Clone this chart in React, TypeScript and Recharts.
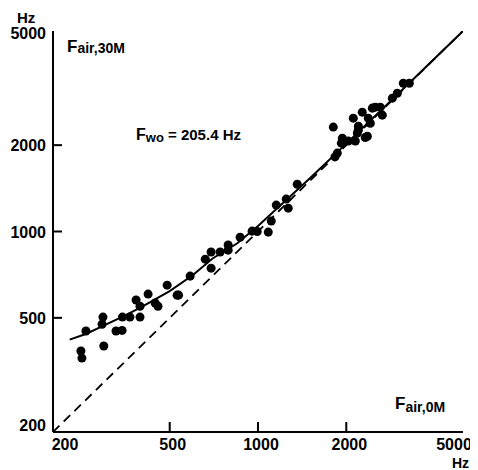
import React from 'react';
import { ScatterChart, Scatter, XAxis, YAxis, Customized } from 'recharts';

// measured F_air,0M vs F_air,30M (Hz)
const measured = [
  { x: 249, y: 383 }, { x: 251, y: 362 }, { x: 259, y: 450 }, { x: 296, y: 503 },
  { x: 294, y: 475 }, { x: 298, y: 399 }, { x: 328, y: 450 }, { x: 344, y: 452 },
  { x: 345, y: 503 }, { x: 366, y: 503 }, { x: 384, y: 577 }, { x: 396, y: 503 },
  { x: 396, y: 549 }, { x: 422, y: 605 }, { x: 446, y: 563 }, { x: 456, y: 549 },
  { x: 490, y: 650 }, { x: 530, y: 600 }, { x: 536, y: 600 }, { x: 587, y: 699 },
  { x: 661, y: 801 }, { x: 692, y: 848 }, { x: 692, y: 745 }, { x: 743, y: 848 },
  { x: 791, y: 897 }, { x: 791, y: 861 }, { x: 869, y: 955 }, { x: 955, y: 1003 },
  { x: 994, y: 1000 }, { x: 1084, y: 995 }, { x: 1110, y: 1087 }, { x: 1154, y: 1236 },
  { x: 1248, y: 1297 }, { x: 1268, y: 1206 }, { x: 1361, y: 1462 }, { x: 1806, y: 2312 },
  { x: 1830, y: 1820 }, { x: 1864, y: 1876 }, { x: 1924, y: 2032 }, { x: 1939, y: 2115 },
  { x: 2032, y: 2068 }, { x: 2181, y: 2203 }, { x: 2199, y: 2327 }, { x: 2360, y: 2148 },
  { x: 2415, y: 2385 }, { x: 2113, y: 2484 }, { x: 2147, y: 2068 }, { x: 2198, y: 2256 },
  { x: 2267, y: 2606 }, { x: 2321, y: 2127 }, { x: 2377, y: 2484 }, { x: 2454, y: 2692 },
  { x: 2512, y: 2713 }, { x: 2612, y: 2713 }, { x: 2654, y: 2545 }, { x: 2871, y: 2916 },
  { x: 2985, y: 3035 }, { x: 3130, y: 3288 }, { x: 3281, y: 3288 },
];

// fitted curve
const fitCurve = [
  { x: 228, y: 420 }, { x: 260, y: 440 }, { x: 300, y: 472 }, { x: 350, y: 508 },
  { x: 400, y: 545 }, { x: 500, y: 620 }, { x: 600, y: 705 }, { x: 700, y: 805 },
  { x: 850, y: 910 }, { x: 1000, y: 1045 }, { x: 1500, y: 1530 }, { x: 2000, y: 2025 },
  { x: 3000, y: 3015 }, { x: 5000, y: 5000 },
];

// identity line F_30M = F_0M
const identity = [{ x: 200, y: 200 }, { x: 5000, y: 5000 }];

const ticks = [200, 500, 1000, 2000, 5000];
const domain: [number, number] = [200, 5000];
const FONT = '"Liberation Sans", Arial, sans-serif';

const XTick = ({ x, y, payload }: any) => {
  const v = payload.value;
  const edge = v === 200 || v === 5000;
  const dx = v === 200 ? 12 : v === 5000 ? -9 : 3;
  return (
    <g>
      {!edge && <line x1={x} y1={y} x2={x} y2={y - 10} stroke="#000" strokeWidth={2} />}
      <text x={x + dx} y={y + 18} textAnchor="middle" fontFamily={FONT} fontWeight="bold" fontSize={16} fill="#000">
        {v}
      </text>
    </g>
  );
};

const YTick = ({ x, y, payload }: any) => {
  const v = payload.value;
  const edge = v === 200 || v === 5000;
  const dy = v === 200 ? -1 : v === 5000 ? 8 : 6;
  return (
    <g>
      {!edge && <line x1={x} y1={y} x2={x + 9} y2={y} stroke="#000" strokeWidth={2} />}
      <text x={x - 7} y={y + dy} textAnchor="end" fontFamily={FONT} fontWeight="bold" fontSize={16} fill="#000">
        {v}
      </text>
    </g>
  );
};

const Annotations = () => (
  <g fontFamily={FONT} fill="#000">
    <text x={9} y={15} fontSize={15} fontWeight="bold">Hz</text>
    <text x={461} y={460} fontSize={14} fontWeight="bold" textAnchor="end">Hz</text>
    <text x={59} y={44} fontWeight="bold">
      <tspan fontSize={17}>F</tspan>
      <tspan fontSize={14} dy={1}>air,30M</tspan>
    </text>
    <text x={128} y={132} fontWeight="bold">
      <tspan fontSize={16}>F</tspan>
      <tspan fontSize={13} dy={2}>wo</tspan>
      <tspan fontSize={15} dy={-2}> = 205.4 Hz</tspan>
    </text>
    <text x={387} y={401} fontWeight="bold">
      <tspan fontSize={17}>F</tspan>
      <tspan fontSize={14} dy={3}>air,0M</tspan>
    </text>
  </g>
);

const NoShape = () => <g />;

export default function App() {
  return (
    <ScatterChart
      width={470}
      height={462}
      margin={{ top: 23, right: 15, bottom: 8, left: 0 }}
      style={{ overflow: 'visible' }}
    >
      <XAxis
        dataKey="x"
        type="number"
        scale="log"
        domain={domain}
        ticks={ticks}
        interval={0}
        allowDataOverflow
        height={30}
        tickSize={0}
        tickMargin={0}
        tick={<XTick />}
        axisLine={{ stroke: '#000', strokeWidth: 2 }}
      />
      <YAxis
        dataKey="y"
        type="number"
        scale="log"
        domain={domain}
        ticks={ticks}
        interval={0}
        allowDataOverflow
        width={45}
        tickSize={0}
        tickMargin={0}
        tick={<YTick />}
        axisLine={{ stroke: '#000', strokeWidth: 2 }}
      />
      <XAxis
        xAxisId="top"
        orientation="top"
        type="number"
        scale="log"
        domain={domain}
        height={0}
        tick={false}
        tickLine={false}
        axisLine={{ stroke: '#000', strokeWidth: 2 }}
      />
      <YAxis
        yAxisId="right"
        orientation="right"
        type="number"
        scale="log"
        domain={domain}
        width={0}
        tick={false}
        tickLine={false}
        axisLine={{ stroke: '#000', strokeWidth: 2 }}
      />
      <Scatter
        data={identity}
        line={{ stroke: '#000', strokeWidth: 1.8, strokeDasharray: '9 6' }}
        shape={<NoShape />}
        isAnimationActive={false}
      />
      <Scatter
        data={fitCurve}
        line={{ stroke: '#000', strokeWidth: 2 }}
        lineType="joint"
        shape={<NoShape />}
        isAnimationActive={false}
      />
      <Scatter data={measured} fill="#000" shape="circle" isAnimationActive={false} />
      <Customized component={<Annotations />} />
    </ScatterChart>
  );
}
